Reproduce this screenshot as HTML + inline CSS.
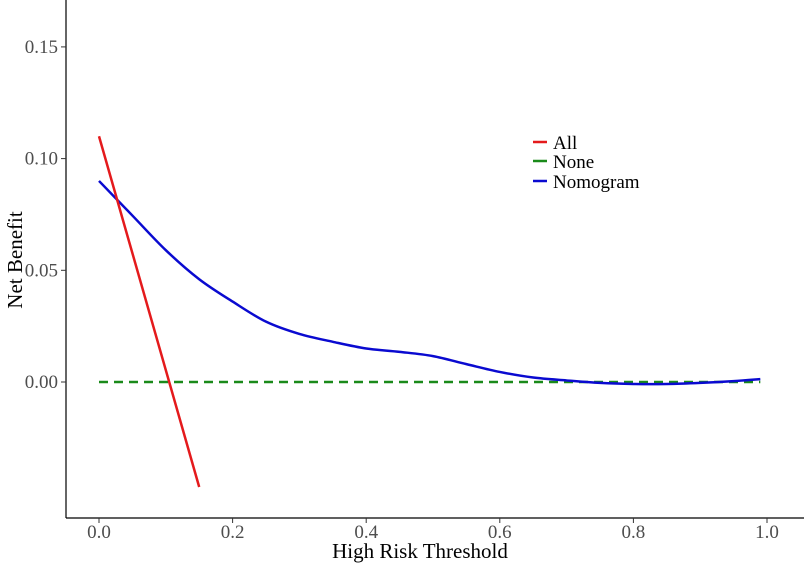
<!DOCTYPE html>
<html><head><meta charset="utf-8"><style>
body{margin:0;background:#fff;}
svg{display:block;font-family:"Liberation Serif",serif;}
</style></head><body>
<svg id="chart" width="807" height="566">
<g id="axes"></g><g id="series"></g>
<g>
 <line x1="533" x2="547" y1="142" y2="142" stroke="#e41a1c" stroke-width="2.5"/>
 <text x="553" y="149" font-size="19">All</text>
 <line x1="533" x2="547" y1="161" y2="161" stroke="#1a8a1a" stroke-width="2.5"/>
 <text x="553" y="168" font-size="19">None</text>
 <line x1="533" x2="547" y1="181" y2="181" stroke="#0a0ad0" stroke-width="2.5"/>
 <text x="553" y="188" font-size="19">Nomogram</text>
</g>
<text x="420" y="558" font-size="21" text-anchor="middle">High Risk Threshold</text>
<text transform="translate(22,260) rotate(-90)" font-size="21" text-anchor="middle">Net Benefit</text>
</svg>
<script>
const xTicks=[0,0.2,0.4,0.6,0.8,1.0];
const xTickLabels=["0.0","0.2","0.4","0.6","0.8","1.0"];
const yTicks=[0,0.05,0.10,0.15];
const yTickLabels=["0.00","0.05","0.10","0.15"];
const allX=[0,0.15];
const allY=[0.110,-0.047];
const noneX=[0,0.99];
const noneY=[0,0];
const nomoX=[0,0.05,0.1,0.15,0.2,0.25,0.3,0.35,0.4,0.45,0.5,0.55,0.6,0.65,0.7,0.75,0.8,0.85,0.9,0.95,0.99];
const nomoY=[0.090,0.0745,0.059,0.046,0.036,0.027,0.0215,0.018,0.015,0.0135,0.0116,0.008,0.0045,0.002,0.0007,-0.0004,-0.0009,-0.0009,-0.0004,0.0004,0.0013];

const NS="http://www.w3.org/2000/svg";
const X=v=>99+v*668;
const Y=v=>382-v*2234;
const axes=document.getElementById('axes'),series=document.getElementById('series');
function mk(tag,attrs,parent){const e=document.createElementNS(NS,tag);for(const k in attrs)e.setAttribute(k,attrs[k]);parent.appendChild(e);return e;}
let e=mk('line',{x1:66,x2:66,y1:0,y2:518,stroke:'#000','stroke-width':1.2},axes);


e=mk('line',{x1:66,x2:804,y1:518,y2:518,stroke:'#000','stroke-width':1.2},axes);


xTicks.forEach((t,i)=>{
 let l=mk('line',{x1:X(t),x2:X(t),y1:518,y2:523,stroke:'#333'},axes);
 
 
 let tx=mk('text',{x:X(t),y:538,'font-size':19,'text-anchor':'middle',fill:'#4d4d4d'},axes);
 tx.textContent=xTickLabels[i];
 
 
});
yTicks.forEach((t,i)=>{
 let l=mk('line',{x1:61,x2:66,y1:Y(t),y2:Y(t),stroke:'#333'},axes);
 
 
 let tx=mk('text',{x:58,y:Y(t)+6,'font-size':19,'text-anchor':'end',fill:'#4d4d4d'},axes);
 tx.textContent=yTickLabels[i];
 
 
});
function pts(xs,ys){return xs.map((x,i)=>X(x)+','+Y(ys[i]));}
let p=mk('path',{d:'M'+pts(noneX,noneY).join('L'),stroke:'#1a8a1a','stroke-width':2.5,fill:'none','stroke-dasharray':'9,6'},series);


const P=nomoX.map((x,i)=>[X(x),Y(nomoY[i])]);
let d='M'+P[0].join(',');
for(let i=0;i<P.length-1;i++){const p0=P[Math.max(0,i-1)],p1=P[i],p2=P[i+1],p3=P[Math.min(P.length-1,i+2)];
 d+=' C'+(p1[0]+(p2[0]-p0[0])/6)+','+(p1[1]+(p2[1]-p0[1])/6)+' '+(p2[0]-(p3[0]-p1[0])/6)+','+(p2[1]-(p3[1]-p1[1])/6)+' '+p2[0]+','+p2[1];}
p=mk('path',{d:d,stroke:'#0a0ad0','stroke-width':2.5,fill:'none'},series);


p=mk('path',{d:'M'+pts(allX,allY).join('L'),stroke:'#e41a1c','stroke-width':2.5,fill:'none'},series);


</script>
</body></html>
